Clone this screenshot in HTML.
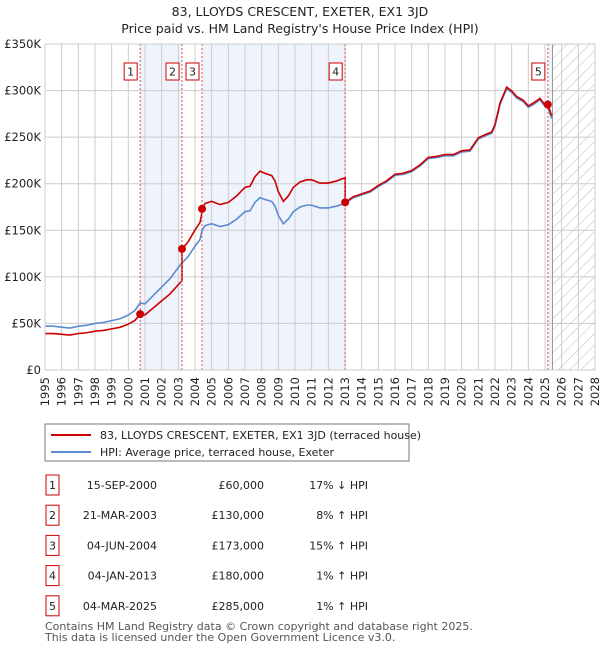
<!DOCTYPE html>
<html><head><meta charset="utf-8"><style>
body{margin:0;background:#fff;}
svg{display:block;font-family:"DejaVu Sans","Liberation Sans",sans-serif;}
</style></head><body>
<svg id="chart" width="600" height="650" viewBox="0 0 600 650">
<defs><pattern id="hatch" width="8" height="8" patternUnits="userSpaceOnUse" patternTransform="rotate(45)"><line x1="0" y1="0" x2="0" y2="8" stroke="#bbb" stroke-width="1"/></pattern></defs>
<text x="300" y="16" text-anchor="middle" font-size="12.5" fill="#222">83, LLOYDS CRESCENT, EXETER, EX1 3JD</text>
<text x="300" y="33" text-anchor="middle" font-size="12.5" fill="#222">Price paid vs. HM Land Registry's House Price Index (HPI)</text>
<g id="bg"></g><g id="grid"></g><g id="lines"></g><g id="marks"></g><g id="axes"></g>
<g>
<rect x="45" y="424" width="364" height="37" fill="#fff" stroke="#777"/>
<line x1="51" y1="435" x2="91" y2="435" stroke="#cc0000" stroke-width="2"/>
<text x="100" y="439" font-size="11" fill="#222">83, LLOYDS CRESCENT, EXETER, EX1 3JD (terraced house)</text>
<line x1="51" y1="452" x2="91" y2="452" stroke="#5b8bd0" stroke-width="2"/>
<text x="100" y="456" font-size="11" fill="#222">HPI: Average price, terraced house, Exeter</text>
</g>
<g id="table" font-size="11" fill="#222"></g>
<text x="45" y="630" font-size="11" fill="#555">Contains HM Land Registry data © Crown copyright and database right 2025.</text>
<text x="45" y="641" font-size="11" fill="#555">This data is licensed under the Open Government Licence v3.0.</text>
</svg>
<script>
const hpiYears=[1995,1995.5,1996,1996.5,1997,1997.5,1998,1998.5,1999,1999.5,2000,2000.4,2000.71,2001,2001.5,2002,2002.5,2003,2003.22,2003.6,2004,2004.3,2004.42,2004.6,2005,2005.5,2006,2006.5,2007,2007.3,2007.6,2007.9,2008.2,2008.6,2008.8,2009,2009.3,2009.6,2009.9,2010.3,2010.7,2011,2011.5,2012,2012.5,2013.01,2013.5,2014,2014.5,2015,2015.5,2016,2016.5,2017,2017.5,2018,2018.5,2019,2019.5,2020,2020.5,2021,2021.5,2021.8,2022,2022.3,2022.7,2023,2023.3,2023.7,2024,2024.3,2024.7,2025,2025.17,2025.4];
const hpiValues=[47,47,46,45,47,48,50,51,53,55,59,64,72,71,80,89,98,110,115,122,133,140,150,155,157,154,156,162,170,171,180,185,183,181,176,166,157,162,170,175,177,177,174,174,176,179,185,188,191,197,202,209,210,213,219,227,228,230,230,234,235,248,252,254,262,285,302,298,292,288,282,285,290,283,282,270];
const saleYears=[2000.71,2003.22,2004.42,2013.01,2025.17];
const salePrices=[60,130,173,180,285];
const saleDates=["15-SEP-2000","21-MAR-2003","04-JUN-2004","04-JAN-2013","04-MAR-2025"];
const salePriceLabels=["£60,000","£130,000","£173,000","£180,000","£285,000"];
const saleHpiLabels=["17% ↓ HPI","8% ↑ HPI","15% ↑ HPI","1% ↑ HPI","1% ↑ HPI"];
const yTicks=[0,50,100,150,200,250,300,350];
const yTickLabels=["£0","£50K","£100K","£150K","£200K","£250K","£300K","£350K"];
const xTicks=[1995,1996,1997,1998,1999,2000,2001,2002,2003,2004,2005,2006,2007,2008,2009,2010,2011,2012,2013,2014,2015,2016,2017,2018,2019,2020,2021,2022,2023,2024,2025,2026,2027,2028];
const NS="http://www.w3.org/2000/svg";
const X0=45,X1=595,Y0=370,Y1=44;
const x=t=>X0+(t-1995)/(2028-1995)*(X1-X0);
const y=v=>Y0-v/350*(Y0-Y1);
function mk(tag,attrs,parent){const e=document.createElementNS(NS,tag);for(const k in attrs)e.setAttribute(k,attrs[k]);document.getElementById(parent)?document.getElementById(parent).appendChild(e):parent.appendChild(e);return e;}
function hpiAt(t){for(let i=0;i<hpiYears.length-1;i++){if(t<=hpiYears[i+1]){const f=(t-hpiYears[i])/(hpiYears[i+1]-hpiYears[i]);return hpiValues[i]+f*(hpiValues[i+1]-hpiValues[i]);}}return hpiValues[hpiValues.length-1];}
const nowX=x(2025.45);
[[0,1],[2,3]].forEach(p=>{const r=mk('rect',{x:x(saleYears[p[0]]),y:Y1,width:x(saleYears[p[1]])-x(saleYears[p[0]]),height:Y0-Y1,fill:'#eef3fc'},'bg');

});
const s5=mk('rect',{x:x(saleYears[4]),y:Y1,width:nowX-x(saleYears[4]),height:Y0-Y1,fill:'#eef3fc'},'bg');


const hz=mk('rect',{x:nowX,y:Y1,width:X1-nowX,height:Y0-Y1,fill:'url(#hatch)'},'bg');


xTicks.forEach(t=>{mk('line',{x1:x(t),x2:x(t),y1:Y1,y2:Y0,stroke:'#ccc','stroke-width':1},'grid');
const lb=mk('text',{x:0,y:0,'font-size':11.5,fill:'#222','text-anchor':'end',transform:`translate(${x(t)+4},${Y0+7}) rotate(-90)`},'axes');lb.textContent=t;

});
yTicks.forEach((v,i)=>{mk('line',{x1:X0,x2:X1,y1:y(v),y2:y(v),stroke:'#ccc','stroke-width':1},'grid');
const lb=mk('text',{x:X0-4,y:y(v)+4,'font-size':11.5,fill:'#222','text-anchor':'end'},'axes');lb.textContent=yTickLabels[i];

});
mk('line',{x1:nowX,x2:nowX,y1:Y1,y2:Y0,stroke:'#999','stroke-width':1},'grid');
const hp=mk('polyline',{points:hpiYears.map((t,i)=>x(t)+','+y(hpiValues[i])).join(' '),fill:'none',stroke:'#5b8bd0','stroke-width':1.6},'lines');


const pts=[];
for(let k=0;k<saleYears.length;k++){
 const ratio=salePrices[k]/hpiAt(saleYears[k]);
 const start=k===0?1995:saleYears[k];
 const end=k===saleYears.length-1?2025.4:saleYears[k+1];
 pts.push([start,hpiAt(start)*ratio]);
 hpiYears.forEach((t,i)=>{if(t>start&&t<end)pts.push([t,hpiValues[i]*ratio]);});
 pts.push([end,hpiAt(end)*ratio]);
}
const pl=mk('polyline',{points:pts.map(p=>x(p[0])+','+y(p[1])).join(' '),fill:'none',stroke:'#cc0000','stroke-width':1.6},'lines');


const tbl=document.getElementById('table');
saleYears.forEach((t,i)=>{
 mk('line',{x1:x(t),x2:x(t),y1:Y1,y2:Y0,stroke:'#e05050','stroke-width':1,'stroke-dasharray':'2,2'},'marks');
 const d=mk('circle',{cx:x(t),cy:y(salePrices[i]),r:4,fill:'#cc0000'},'marks');
 
 
 const bx=x(t)-16;
 mk('rect',{x:bx,y:63,width:13,height:17,fill:'#fff',stroke:'#cc0000'},'marks');
 const nt=mk('text',{x:bx+6.5,y:75.5,'font-size':11,'text-anchor':'middle',fill:'#222'},'marks');nt.textContent=i+1;
 
 
 const ry=483+i*30.2;
 mk('rect',{x:46,y:ry-8,width:13,height:20,fill:'#fff',stroke:'#cc0000'},tbl);
 const a=mk('text',{x:52.5,y:ry+6,'text-anchor':'middle'},tbl);a.textContent=i+1;
 const b=mk('text',{x:157,y:ry+6,'text-anchor':'end'},tbl);b.textContent=saleDates[i];
 
 
 const c=mk('text',{x:264,y:ry+6,'text-anchor':'end'},tbl);c.textContent=salePriceLabels[i];
 
 
 const e=mk('text',{x:368,y:ry+6,'text-anchor':'end'},tbl);e.textContent=saleHpiLabels[i];
 
 
});
mk('rect',{x:X0,y:Y1,width:X1-X0,height:Y0-Y1,fill:'none',stroke:'#ccc'},'axes');
</script>
</body></html>
